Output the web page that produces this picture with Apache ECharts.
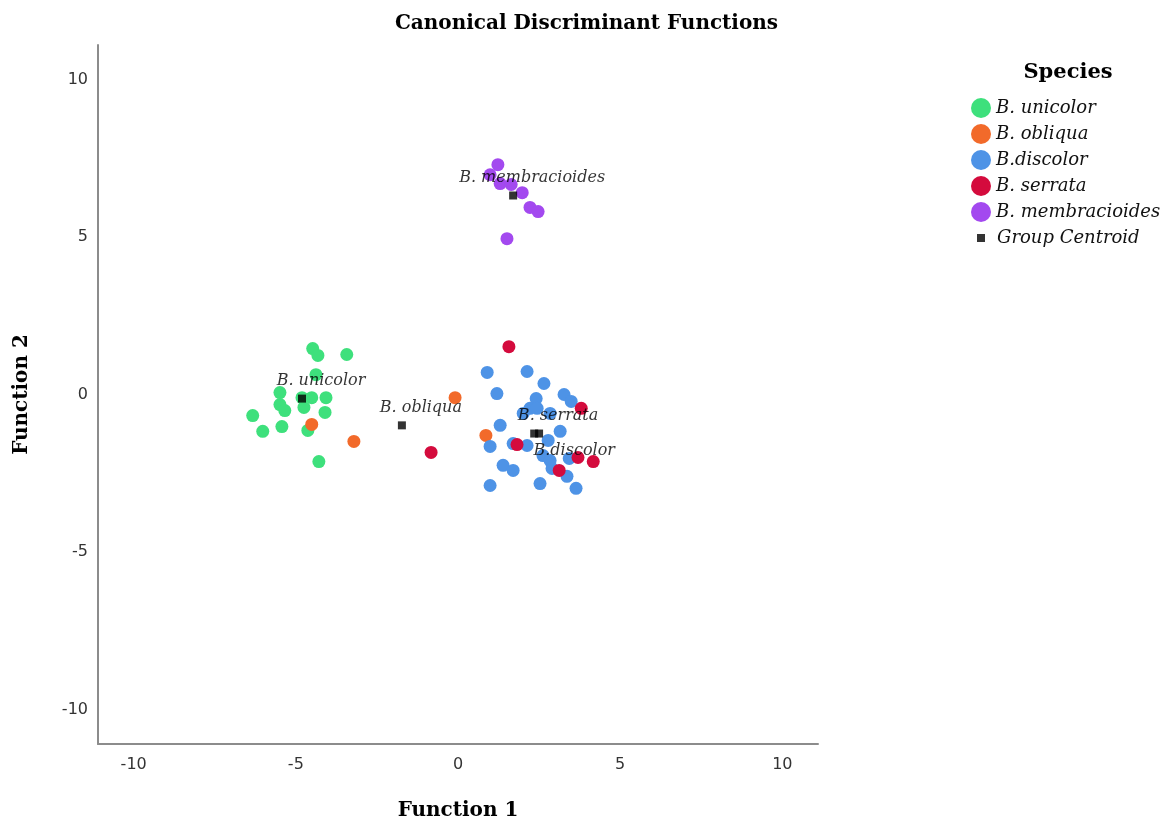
<!DOCTYPE html>
<html>
<head>
<meta charset="utf-8">
<script src="https://cdn.jsdelivr.net/npm/echarts@6/dist/echarts.min.js"></script>
<style>
  html, body { margin: 0; padding: 0; background: #fff; }
  #chart { width: 1173px; height: 826px; }
</style>
</head>
<body>
<div id="chart"></div>
<script>
// Function 1 / Function 2 scores
const unicolor = [
  [-4.48, 1.46], [-4.32, 1.24], [-3.43, 1.27], [-4.38, 0.63], [-5.49, 0.06],
  [-4.81, -0.10], [-4.51, -0.10], [-4.07, -0.10], [-5.49, -0.32], [-5.34, -0.51],
  [-4.75, -0.41], [-4.10, -0.57], [-6.33, -0.67], [-6.02, -1.17], [-5.43, -1.02],
  [-4.63, -1.14], [-4.29, -2.13]
]
const obliqua = [[-4.51, -0.95], [-3.21, -1.49], [-0.09, -0.10], [0.86, -1.30]]
const discolor = [
  [0.90, 0.70], [2.13, 0.73], [2.65, 0.35], [1.20, 0.03], [3.27, 0.00],
  [3.49, -0.22], [2.41, -0.13], [2.22, -0.44], [2.44, -0.44], [2.84, -0.60],
  [2.01, -0.60], [1.30, -0.98], [3.15, -1.17], [2.78, -1.46], [0.99, -1.65],
  [1.70, -1.56], [2.13, -1.62], [2.62, -1.94], [2.84, -2.10], [3.43, -2.03],
  [1.39, -2.25], [1.70, -2.41], [2.90, -2.35], [3.36, -2.60], [0.99, -2.89],
  [2.53, -2.83], [3.64, -2.98]
]
const serrata = [
  [1.57, 1.52], [3.80, -0.44], [-0.83, -1.84], [1.82, -1.59], [3.70, -2.00],
  [4.17, -2.13], [3.12, -2.41]
]
const membracioides = [
  [1.23, 7.30], [0.99, 6.98], [1.30, 6.70], [1.64, 6.67], [1.98, 6.41],
  [2.22, 5.94], [2.47, 5.81], [1.51, 4.95]
]

const speciesNames = ['B. unicolor', 'B. obliqua', 'B.discolor', 'B. serrata', 'B. membracioides']
const speciesData = [unicolor, obliqua, discolor, serrata, membracioides]
const speciesColors = ['#3ee07c', '#f26a2a', '#4e93e6', '#d40b3d', '#a349ef']

const centroidNames = ['B. unicolor', 'B. obliqua', 'B.discolor', 'B. serrata', 'B. membracioides']
const centroids = [[-4.81, -0.13], [-1.73, -0.98], [2.35, -1.24], [2.50, -1.24], [1.70, 6.32]]

const axisTicks = [-10, -5, 0, 5, 10]

const serif = 'DejaVu Serif'
const sans = 'DejaVu Sans'

const chart = echarts.init(document.getElementById('chart'))

const speciesSeries = speciesNames.map((name, i) => ({
  name,
  type: 'scatter',
  data: speciesData[i],
  symbol: 'circle',
  symbolSize: 13,
  itemStyle: { color: speciesColors[i], opacity: 1 },
  z: 2
}))

const centroidSeries = {
  name: 'Group Centroid',
  type: 'scatter',
  symbol: 'rect',
  symbolSize: 8,
  itemStyle: { color: '#000' },
  z: 5,
  data: centroids.map((c, i) => ({
    name: centroidNames[i],
    value: c,
    label: {
      show: true,
      formatter: '{b}',
      position: centroidNames[i] === 'B.discolor' ? [44, 21] : [23, -14],
      align: 'center',
      verticalAlign: 'middle',
      fontFamily: serif,
      fontStyle: 'italic',
      fontSize: 16,
      color: '#000'
    }
  }))
}

const option = {
  backgroundColor: '#fff',
  animation: false,
  title: [
    {
      text: 'Canonical Discriminant Functions',
      left: 'center',
      top: 9,
      textStyle: { fontFamily: serif, fontWeight: 'bold', fontSize: 20, color: '#000' }
    },
    {
      text: 'Species',
      left: 1063,
      textAlign: 'center',
      top: 57,
      textStyle: { fontFamily: serif, fontWeight: 'bold', fontSize: 21, color: '#000' }
    }
  ],
  legend: [
    {
      data: speciesNames,
      orient: 'vertical',
      left: 966,
      top: 93,
      itemWidth: 20,
      itemHeight: 20,
      itemGap: 6,
      icon: 'circle',
      textStyle: { fontFamily: serif, fontStyle: 'italic', fontSize: 18, lineHeight: 20, color: '#111' }
    },
    {
      data: ['Group Centroid'],
      orient: 'vertical',
      left: 972,
      top: 223,
      itemWidth: 8,
      itemHeight: 8,
      icon: 'rect',
      textStyle: { fontFamily: serif, fontStyle: 'italic', fontSize: 18, lineHeight: 20, color: '#111', padding: [0, 0, 0, 7] }
    }
  ],
  grid: { left: 98, right: 355, top: 45, bottom: 82, containLabel: false },
  xAxis: {
    type: 'value',
    min: -11.1,
    max: 11.1,
    name: 'Function 1',
    nameLocation: 'middle',
    nameGap: 57,
    nameTextStyle: { fontFamily: serif, fontWeight: 'bold', fontSize: 20, color: '#000' },
    axisLine: { show: true, onZero: false, lineStyle: { color: '#8c8c8c', width: 2 } },
    axisTick: { show: false },
    splitLine: { show: false },
    axisLabel: {
      customValues: axisTicks,
      margin: 13,
      fontFamily: sans,
      fontSize: 16,
      color: '#333'
    }
  },
  yAxis: {
    type: 'value',
    min: -11.1,
    max: 11.1,
    name: 'Function 2',
    nameLocation: 'middle',
    nameGap: 66,
    nameTextStyle: { fontFamily: serif, fontWeight: 'bold', fontSize: 20, color: '#000' },
    axisLine: { show: true, onZero: false, lineStyle: { color: '#8c8c8c', width: 2 } },
    axisTick: { show: false },
    splitLine: { show: false },
    axisLabel: {
      customValues: axisTicks,
      margin: 10,
      fontFamily: sans,
      fontSize: 16,
      color: '#333'
    }
  },
  series: [...speciesSeries, centroidSeries]
}

chart.setOption(option)
</script>
</body>
</html>
